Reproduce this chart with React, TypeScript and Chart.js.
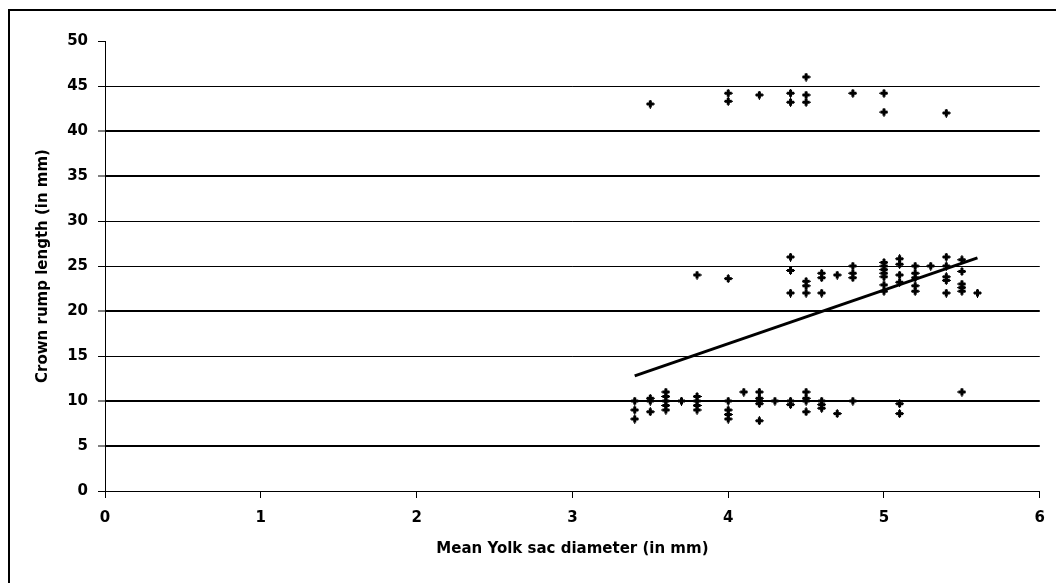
import React, { useEffect, useRef } from "react";
import { Chart, registerables } from "chart.js";

Chart.register(...registerables);

// Mean yolk sac diameter (mm) and crown rump length (mm) for each observation
const yolkSacDiameter: number[] = [
  3.4, 3.4, 3.4, 3.5, 3.5, 3.5, 3.6, 3.6, 3.6, 3.6, 3.6, 3.7, 3.8, 3.8, 3.8, 3.8,
  4.0, 4.0, 4.0, 4.0, 4.1, 4.2, 4.2, 4.2, 4.2, 4.2, 4.3, 4.4, 4.4, 4.5, 4.5, 4.5, 4.5,
  4.6, 4.6, 4.6, 4.7, 4.8, 5.1, 5.1, 5.5,
  3.8, 4.0, 4.4, 4.4, 4.4, 4.5, 4.5, 4.5, 4.6, 4.6, 4.6, 4.7, 4.8, 4.8, 4.8,
  5.0, 5.0, 5.0, 5.0, 5.0, 5.0, 5.0, 5.1, 5.1, 5.1, 5.1, 5.2, 5.2, 5.2, 5.2, 5.2,
  5.3, 5.4, 5.4, 5.4, 5.4, 5.4, 5.5, 5.5, 5.5, 5.5, 5.5, 5.6,
  3.5, 4.0, 4.0, 4.2, 4.4, 4.4, 4.5, 4.5, 4.5, 4.8, 5.0, 5.0, 5.4,
];
const crownRumpLength: number[] = [
  10, 9, 8, 10.3, 10, 8.8, 11, 10.5, 10, 9.5, 9, 10, 10.5, 10, 9.5, 9,
  10, 9, 8.5, 8, 11, 11, 10.3, 10, 9.7, 7.8, 10, 10, 9.6, 11, 10.3, 10, 8.8,
  10, 9.6, 9.2, 8.6, 10, 9.7, 8.6, 11,
  24, 23.6, 26, 24.5, 22, 23.3, 22.8, 22, 24.2, 23.7, 22, 24, 25, 24.2, 23.7,
  25.4, 25, 24.6, 24.2, 23.8, 22.9, 22.2, 25.8, 25.2, 24, 23.2, 25, 24.2, 23.7, 22.8, 22.2,
  25, 26, 25, 23.8, 23.4, 22, 25.7, 24.4, 23, 22.6, 22.2, 22,
  43, 44.2, 43.3, 44, 44.2, 43.2, 46, 44, 43.2, 44.2, 44.2, 42.1, 42,
];

// Linear trend line end points
const trendX: number[] = [3.4, 5.6];
const trendY: number[] = [12.8, 25.9];

const xTicks: number[] = [0, 1, 2, 3, 4, 5, 6];
const yTicks: number[] = [0, 5, 10, 15, 20, 25, 30, 35, 40, 45, 50];
const xTitle = "Mean Yolk sac diameter (in mm)";
const yTitle = "Crown rump length (in mm)";

function makeMarker(): HTMLCanvasElement {
  const c = document.createElement("canvas");
  c.width = 9;
  c.height = 9;
  const g = c.getContext("2d")!;
  g.fillStyle = "#000";
  g.fillRect(4, 0, 1, 9);
  g.fillRect(0, 4, 9, 1);
  g.fillRect(3, 1, 3, 7);
  g.fillRect(1, 3, 7, 3);
  return c;
}

const framePlugin = {
  id: "frame",
  afterDraw(chart: any) {
    const ctx = chart.ctx;
    ctx.save();
    ctx.fillStyle = "#000";
    ctx.fillRect(8, 9, 2, 583);
    ctx.fillRect(8, 9, 1048, 2);
    ctx.restore();
  },
};

export default function App() {
  const ref = useRef<HTMLCanvasElement | null>(null);

  useEffect(() => {
    if (!ref.current) return;
    const marker = makeMarker();
    const points = yolkSacDiameter.map((x, i) => ({ x, y: crownRumpLength[i] }));
    const trend = trendX.map((x, i) => ({ x, y: trendY[i] }));
    const thick = new Set([40, 35, 20, 10, 5]);

    const chart = new Chart(ref.current, {
      type: "scatter",
      data: {
        datasets: [
          {
            label: "CRL",
            data: points,
            pointStyle: marker as any,
            pointRadius: 4,
            backgroundColor: "#000",
            borderColor: "#000",
            showLine: false,
          },
          {
            label: "Trend",
            data: trend,
            showLine: true,
            borderColor: "#000",
            borderWidth: 3,
            pointRadius: 0,
            fill: false,
          } as any,
        ],
      },
      options: {
        animation: false,
        responsive: false,
        layout: { padding: { top: 41, right: 13, left: 0, bottom: 0 } },
        plugins: {
          legend: { display: false },
          tooltip: { enabled: false },
        },
        scales: {
          x: {
            type: "linear",
            min: 0,
            max: 6,
            afterBuildTicks: (scale: any) => {
              scale.ticks = xTicks.map((v) => ({ value: v }));
            },
            afterFit: (scale: any) => {
              scale.height = 92;
            },
            ticks: {
              color: "#000",
              font: { family: "DejaVu Sans", size: 15, weight: "bold" },
              padding: 11,
              maxRotation: 0,
            },
            grid: {
              drawOnChartArea: false,
              drawTicks: true,
              tickLength: 7,
              tickColor: "#000",
              tickWidth: 1,
              color: "#000",
            },
            border: { display: true, color: "#000", width: 1 },
            title: {
              display: true,
              text: xTitle,
              color: "#000",
              font: { family: "DejaVu Sans", size: 15, weight: "bold" },
              padding: { top: 0, bottom: 25 },
            },
          },
          y: {
            type: "linear",
            min: 0,
            max: 50,
            afterBuildTicks: (scale: any) => {
              scale.ticks = yTicks.map((v) => ({ value: v }));
            },
            afterFit: (scale: any) => {
              scale.width = 105;
            },
            ticks: {
              color: "#000",
              font: { family: "DejaVu Sans", size: 15, weight: "bold" },
              padding: 10,
            },
            grid: {
              drawOnChartArea: true,
              drawTicks: true,
              tickLength: 7,
              tickColor: "#000",
              tickWidth: 1,
              color: (c: any) => (c.tick && c.tick.value === 50 ? "rgba(0,0,0,0)" : "#000"),
              lineWidth: (c: any) => (c.tick && thick.has(c.tick.value) ? 2 : 1),
            },
            border: { display: true, color: "#000", width: 1 },
            title: {
              display: true,
              text: yTitle,
              color: "#000",
              font: { family: "DejaVu Sans", size: 15, weight: "bold" },
              padding: { top: 34, bottom: 0 },
            },
          },
        },
      },
      plugins: [framePlugin],
    });
    return () => chart.destroy();
  }, []);

  return (
    <div style={{ position: "fixed", left: 0, top: 0, width: 1056, height: 583, background: "#fff" }}>
      <canvas ref={ref} width={1056} height={583} style={{ display: "block" }} />
    </div>
  );
}
